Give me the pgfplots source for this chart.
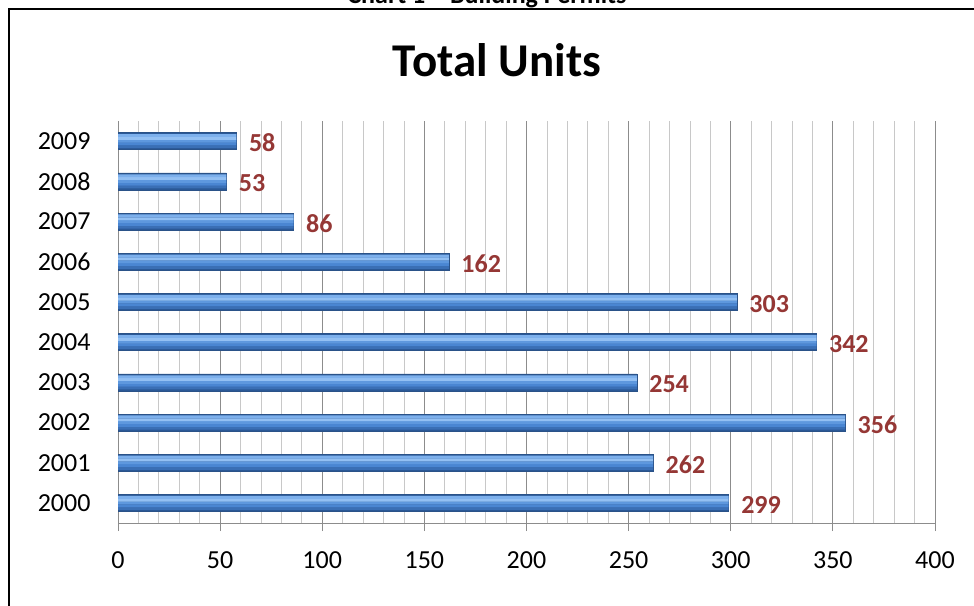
\documentclass[border=0pt]{standalone}
\usepackage{pgfplots}
\usepackage{pgfplotstable}
\pgfplotsset{compat=1.18}
\usepackage{fontspec}
\setmainfont{Carlito}
\definecolor{sA}{HTML}{7DB0EC}
\definecolor{sB}{HTML}{93C0F3}
\definecolor{sC}{HTML}{5E98DE}
\definecolor{sD}{HTML}{4A86D2}
\definecolor{sE}{HTML}{3A6FB5}
\definecolor{sF}{HTML}{2A5896}
\definecolor{bardraw}{HTML}{2A5288}
\definecolor{lblred}{HTML}{953735}
\definecolor{minorgrid}{HTML}{C8C8C8}
\definecolor{majorgrid}{HTML}{8C8C8C}
\pgfplotstableread{
x y
299 0
262 1
356 2
254 3
342 4
303 5
162 6
86 7
53 8
58 9
}\units
\begin{document}
\begin{tikzpicture}[x=1pt,y=1pt]
\useasboundingbox (0,0) rectangle (974,605);
% frame
\draw[line width=2pt] (9,-5) -- (9,596) -- (980,596);
\node[anchor=base,font=\fontsize{26}{30}\selectfont\bfseries] at (487,601) {Chart 1 -- Building Permits};
\node[font=\fontsize{47}{56}\selectfont\bfseries] at (497,545) {Total Units};
\begin{axis}[
  at={(118pt,82pt)}, anchor=south west,
  scale only axis, width=817pt, height=402pt,
  xbar, bar width=17pt,
  xmin=0, xmax=400, ymin=-0.5, ymax=9.5,
  xtick={0,50,...,400},
  minor x tick num=4,
  xmajorgrids, xminorgrids,
  major grid style={majorgrid, line width=0.8pt},
  minor grid style={minorgrid, line width=0.8pt},
  ytick={0,...,9},
  yticklabels={2000,2001,2002,2003,2004,2005,2006,2007,2008,2009},
  extra y ticks={-0.5,0.5,...,9.5},
  extra y tick labels={},
  extra y tick style={major tick length=8pt, tick style={majorgrid, line width=0.8pt}, grid=none},
  major tick length=8pt,
  minor tick length=0pt,
  y tick style={draw=none},
  x tick style={majorgrid, line width=0.8pt},
  tick align=outside,
  axis x line*=bottom, axis y line*=left,
  axis line style={majorgrid, line width=0.8pt},
  x axis line style={-}, y axis line style={-},
  tick label style={font=\fontsize{26}{30}\selectfont},
  xticklabel style={yshift=-17pt},
  yticklabel style={xshift=-16pt},
  /pgf/number format/assume math mode=true,
  clip=false,
]
\addplot[draw=bardraw, line width=0.5pt, fill=sF, bar width=17pt, bar shift=0pt,
  nodes near coords,
  nodes near coords style={font=\fontsize{26}{30}\selectfont\bfseries, text=lblred, anchor=west, xshift=9pt, yshift=-2pt}] table[x=x,y=y] {\units};
\addplot[draw=none, fill=sE, bar width=2.9pt, bar shift=-5.6pt] table[x=x,y=y] {\units};
\addplot[draw=none, fill=sD, bar width=2.9pt, bar shift=-2.8pt] table[x=x,y=y] {\units};
\addplot[draw=none, fill=sC, bar width=2.9pt, bar shift=0pt] table[x=x,y=y] {\units};
\addplot[draw=none, fill=sB, bar width=2.9pt, bar shift=2.8pt] table[x=x,y=y] {\units};
\addplot[draw=none, fill=sA, bar width=2.9pt, bar shift=5.6pt] table[x=x,y=y] {\units};
\end{axis}
\end{tikzpicture}
\end{document}
